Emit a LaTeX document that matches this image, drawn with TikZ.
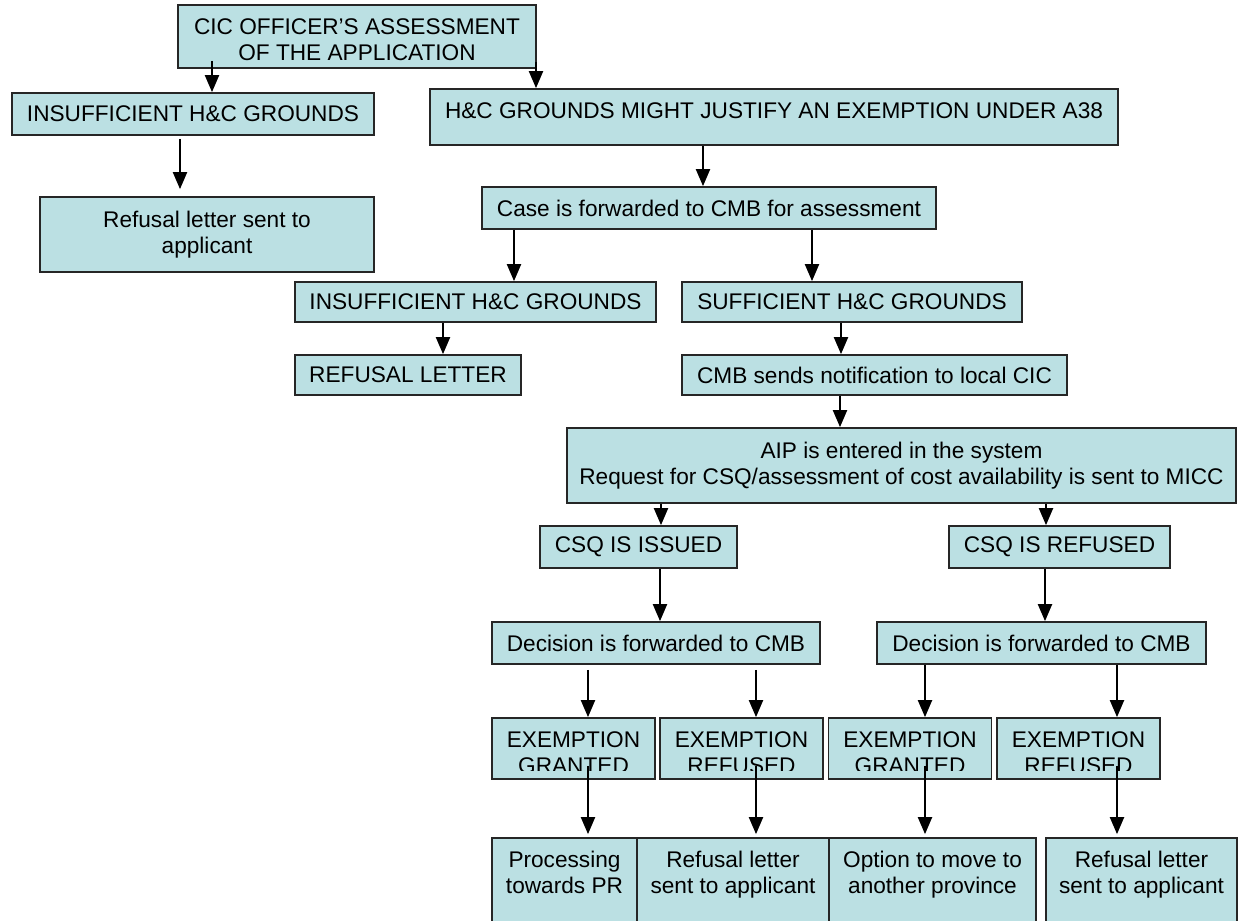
\documentclass[tikz,border=0pt]{standalone}
\usepackage{fontspec}
\setmainfont{Liberation Sans}
\usetikzlibrary{arrows.meta, calc, positioning}
\definecolor{boxcyan}{RGB}{187, 224, 227}
\def\pxs{0.53pt}

\tikzset{
  box/.style={draw=black!85, line width=0.9pt, fill=boxcyan, rectangle, inner sep=0pt, align=center},
  toptext/.style={anchor=north, align=center, inner sep=0pt, yshift=-7.4pt},
  flow/.style={-{Triangle[width=7.4pt, length=9pt]}, line width=1.1pt},
}

\begin{document}
\begin{tikzpicture}[x=0.53pt, y=-0.53pt, font=\fontsize{12}{13.8}\selectfont]
  \useasboundingbox (0,0) rectangle (1238,920);

  % left branch
  \node[box, minimum width=358*\pxs, minimum height=63*\pxs,
        label={[toptext]north:{CIC OFFICER’S ASSESSMENT\\OF THE APPLICATION}}] (cic) at (357,36.5) {};
  \node[box, minimum width=362*\pxs, minimum height=42*\pxs] (insL) at (193,114) {INSUFFICIENT H\&C GROUNDS};
  \node[box, minimum width=334*\pxs, minimum height=75*\pxs] (refTL) at (207,234.5) {Refusal letter sent to\\applicant};

  % CMB assessment
  \node[box, minimum width=688*\pxs, minimum height=56*\pxs,
        label={[toptext]north:{H\&C GROUNDS MIGHT JUSTIFY AN EXEMPTION UNDER A38}}] (hc) at (774,117) {};
  \node[box, minimum width=454*\pxs, minimum height=42*\pxs] (case) at (709,208) {Case is forwarded to CMB for assessment};
  \node[box, minimum width=361*\pxs, minimum height=40*\pxs] (insM) at (475.5,302) {INSUFFICIENT H\&C GROUNDS};
  \node[box, minimum width=340*\pxs, minimum height=40*\pxs] (suff) at (852,302) {SUFFICIENT H\&C GROUNDS};
  \node[box, minimum width=226*\pxs, minimum height=40*\pxs] (refM) at (408,375) {REFUSAL LETTER};
  \node[box, minimum width=385*\pxs, minimum height=40*\pxs] (cmb) at (874.5,375) {CMB sends notification to local CIC};
  \node[box, minimum width=669*\pxs, minimum height=75*\pxs] (aip) at (901.5,465.5)
        {AIP is entered in the system\\Request for CSQ/assessment of cost availability is sent to MICC};

  % CSQ outcome
  \node[box, minimum width=197*\pxs, minimum height=42*\pxs] (csqI) at (638.5,547) {CSQ IS ISSUED};
  \node[box, minimum width=221*\pxs, minimum height=42*\pxs] (csqR) at (1059.5,547) {CSQ IS REFUSED};
  \node[box, minimum width=328*\pxs, minimum height=42*\pxs] (decL) at (656,643) {Decision is forwarded to CMB};
  \node[box, minimum width=329*\pxs, minimum height=42*\pxs] (decR) at (1041.5,643) {Decision is forwarded to CMB};

  % exemption decisions
  \foreach \n/\x/\w in {exG1/573.5/GRANTED, exR1/741.5/REFUSED, exG2/910/GRANTED, exR2/1078.5/REFUSED}
    \node[box, minimum width=163*\pxs, minimum height=61*\pxs,
          label={[toptext]north:{EXEMPTION\\\w}}] (\n) at (\x,748.5) {};
  \foreach \n in {exG1, exR1, exG2, exR2}
    \fill[boxcyan] ($(\n.south west)+(2.2,-2.2)$) rectangle ($(\n.south east)+(-2.2,-9)$);

  % final steps
  \node[box, minimum width=145*\pxs, minimum height=130*\pxs,
        label={[toptext]north:{Processing\\towards PR}}] (proc) at (564.5,903) {};
  \node[box, minimum width=192*\pxs, minimum height=130*\pxs,
        label={[toptext]north:{Refusal letter\\sent to applicant}}] (refB1) at (733,903) {};
  \node[box, minimum width=207*\pxs, minimum height=130*\pxs,
        label={[toptext]north:{Option to move to\\another province}}] (opt) at (932.5,903) {};
  \node[box, minimum width=191*\pxs, minimum height=130*\pxs,
        label={[toptext]north:{Refusal letter\\sent to applicant}}] (refB2) at (1141.5,903) {};

  % connectors
  \draw[flow] ($(cic.south -| 212,0)+(0,-8)$) -- (insL.north -| 212,0);
  \draw[flow] ($(cic.south -| 536,0)+(0,-7)$) -- (hc.north -| 536,0);
  \draw[flow] ($(insL.south -| 180,0)+(0,3)$) -- ($(refTL.north -| 180,0)+(0,-7)$);
  \foreach \a/\b/\x in {hc/case/703, case/insM/514, case/suff/812, insM/refM/443, suff/cmb/841,
                        cmb/aip/840, aip/csqI/661, aip/csqR/1046, csqI/decL/660, csqR/decR/1045,
                        decR/exG2/925, decR/exR2/1117}
    \draw[flow] (\a.south -| \x,0) -- (\b.north -| \x,0);
  \foreach \b/\x in {exG1/588, exR1/756}
    \draw[flow] ($(decL.south -| \x,0)+(0,5)$) -- (\b.north -| \x,0);
  \foreach \a/\b/\x in {exG1/proc/588, exR1/refB1/756, exG2/opt/925, exR2/refB2/1117}
    \draw[flow] ($(\a.south -| \x,0)+(0,-14)$) -- ($(\b.north -| \x,0)+(0,-3)$);
\end{tikzpicture}
\end{document}
